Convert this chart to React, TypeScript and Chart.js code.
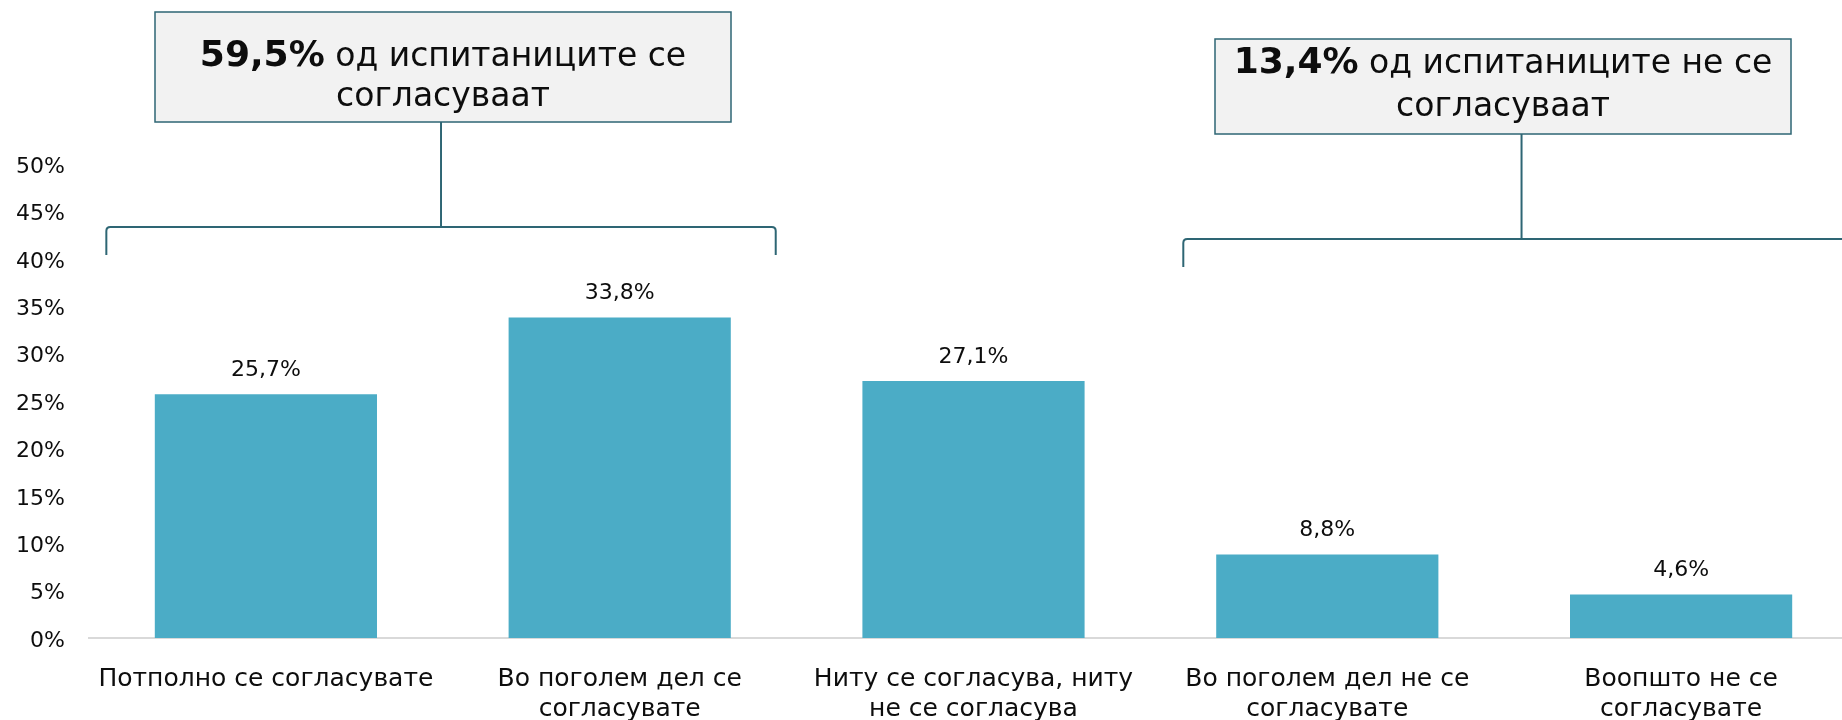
import React, { useEffect, useRef } from "react";
import { Chart, registerables } from "chart.js";

Chart.register(...registerables);

const categories: string[][] = [
  ["Потполно се согласувате"],
  ["Во поголем дел се", "согласувате"],
  ["Ниту се согласува, ниту", "не се согласува"],
  ["Во поголем дел не се", "согласувате"],
  ["Воопшто не се", "согласувате"],
];
const values: number[] = [25.7, 33.8, 27.1, 8.8, 4.6];
const yTicks: number[] = [0, 5, 10, 15, 20, 25, 30, 35, 40, 45, 50];

const callouts = [
  { bold: "59,5%", line1: " од испитаниците се", line2: "согласуваат", from: 0, to: 1 },
  { bold: "13,4%", line1: " од испитаниците не се", line2: "согласуваат", from: 3, to: 4 },
];

const FONT = "'DejaVu Sans', sans-serif";
const BAR = "#4BACC6";
const TEAL = "#2E6674";
const TEXT = "#0d0d0d";

const fmt = (v: number) => v.toFixed(1).replace(".", ",") + "%";

const overlay = {
  id: "overlay",
  afterDatasetsDraw(chart: any) {
    const ctx = chart.ctx;
    const xs = chart.scales.x;
    const meta = chart.getDatasetMeta(0);
    const cw = xs.getPixelForValue(1) - xs.getPixelForValue(0);
    ctx.save();
    // value labels
    ctx.fillStyle = TEXT;
    ctx.font = `22px ${FONT}`;
    ctx.textAlign = "center";
    ctx.textBaseline = "middle";
    meta.data.forEach((bar: any, i: number) => {
      ctx.fillText(fmt(values[i]), bar.x, bar.y - 24);
    });

    // brackets + boxes
    const specs = [
      { left: -0.451, right: 0.441, by: 227, boxL: 155, boxR: 731, boxT: 12, boxB: 122, t1: 57, t2: 97 },
      { left: -0.407, right: 0.505, by: 239, boxL: 1215, boxR: 1791, boxT: 39, boxB: 134, t1: 64, t2: 107 },
    ];
    callouts.forEach((c, k) => {
      const s = specs[k];
      const x0 = xs.getPixelForValue(c.from) + s.left * cw;
      const x1 = xs.getPixelForValue(c.to) + s.right * cw;
      const mid = (x0 + x1) / 2;
      ctx.strokeStyle = TEAL;
      ctx.lineWidth = 2;
      ctx.beginPath();
      ctx.moveTo(x0, s.by + 28);
      ctx.lineTo(x0, s.by + 4);
      ctx.quadraticCurveTo(x0, s.by, x0 + 4, s.by);
      ctx.lineTo(x1 - 4, s.by);
      ctx.quadraticCurveTo(x1, s.by, x1, s.by + 4);
      ctx.lineTo(x1, s.by + 28);
      ctx.stroke();
      ctx.beginPath();
      ctx.moveTo(mid, s.boxB);
      ctx.lineTo(mid, s.by);
      ctx.stroke();
      ctx.fillStyle = "#F2F2F2";
      ctx.fillRect(s.boxL, s.boxT, s.boxR - s.boxL, s.boxB - s.boxT);
      ctx.lineWidth = 1.5;
      ctx.strokeRect(s.boxL, s.boxT, s.boxR - s.boxL, s.boxB - s.boxT);
      const cx = (s.boxL + s.boxR) / 2;
      ctx.fillStyle = TEXT;
      ctx.textBaseline = "middle";
      ctx.font = `bold 36px ${FONT}`;
      const wb = ctx.measureText(c.bold).width;
      ctx.font = `33px ${FONT}`;
      const wr = ctx.measureText(c.line1).width;
      const start = cx - (wb + wr) / 2;
      ctx.textAlign = "left";
      ctx.font = `bold 36px ${FONT}`;
      ctx.fillText(c.bold, start, s.t1);
      ctx.font = `33px ${FONT}`;
      ctx.fillText(c.line1, start + wb, s.t1);
      ctx.textAlign = "center";
      ctx.fillText(c.line2, cx, s.t2);
    });
    ctx.restore();
  },
};

export default function App() {
  const ref = useRef<HTMLCanvasElement>(null);
  useEffect(() => {
    if (!ref.current) return;
    const chart = new Chart(ref.current, {
      type: "bar",
      data: {
        labels: categories,
        datasets: [
          {
            data: values,
            backgroundColor: BAR,
            categoryPercentage: 1,
            barPercentage: 0.628,
          },
        ],
      },
      options: {
        animation: false,
        responsive: false,
        layout: { padding: { top: 164, left: 0, right: 2, bottom: 0 } },
        plugins: { legend: { display: false }, tooltip: { enabled: false } },
        scales: {
          x: {
            grid: { display: false, drawTicks: false },
            border: { display: true, color: "#D9D9D9", width: 2 },
            ticks: {
              color: TEXT,
              font: { family: FONT, size: 25, lineHeight: 1.22 },
              padding: 26,
              maxRotation: 0,
              autoSkip: false,
            },
            afterFit: (s: any) => {
              s.height = 82;
            },
          },
          y: {
            min: 0,
            max: 50,
            afterBuildTicks: (s: any) => {
              s.ticks = yTicks.map((v) => ({ value: v }));
            },
            grid: { display: false, drawTicks: false },
            border: { display: false },
            ticks: {
              color: TEXT,
              font: { family: FONT, size: 22 },
              padding: 24,
              labelOffset: 3,
              callback: (v: any) => v + "%",
            },
            afterFit: (s: any) => {
              s.width = 89;
            },
          },
        },
      },
      plugins: [overlay],
    });
    return () => chart.destroy();
  }, []);
  return (
    <div style={{ position: "absolute", left: 0, top: 0, width: 1842, height: 720, overflow: "hidden", background: "#fff" }}>
      <canvas ref={ref} width={1860} height={720} style={{ width: 1860, height: 720, display: "block" }} />
    </div>
  );
}
